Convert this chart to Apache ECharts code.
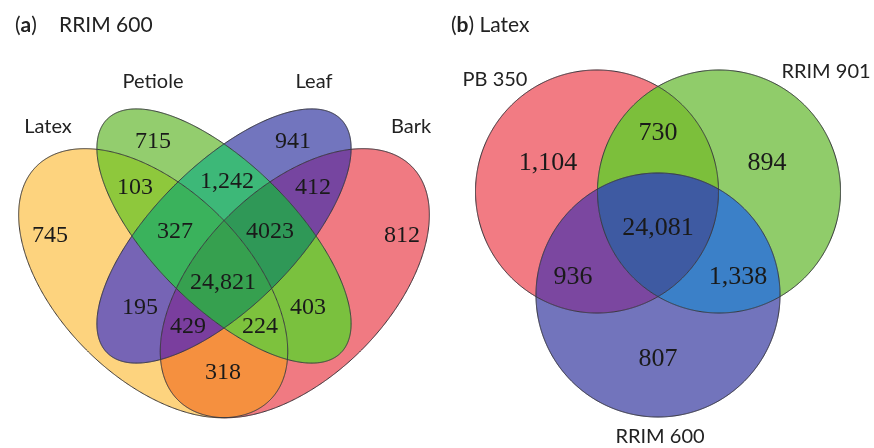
<!DOCTYPE html>
<html><head><meta charset="utf-8">
<script src="https://cdn.jsdelivr.net/npm/echarts@6/dist/echarts.min.js"></script>
<style>html,body{margin:0;padding:0;background:#fff}#c{width:874px;height:448px}</style>
</head><body><div id="c"></div>
<script>
// ---------- DATA ----------
// Panel (a): RRIM 600 tissues
const setsA = ['Latex', 'Petiole', 'Leaf', 'Bark'];
// region membership masks: Latex=1, Petiole=2, Leaf=4, Bark=8
const masksA = [1, 2, 4, 8, 3, 6, 12, 5, 10, 9, 7, 14, 13, 11, 15];
const countsA = [745, 715, 941, 812, 103, 1242, 412, 195, 403, 318, 327, 4023, 429, 224, 24821];
const countLabelsA = ['745', '715', '941', '812', '103', '1,242', '412', '195', '403', '318', '327', '4023', '429', '224', '24,821'];

// Panel (b): Latex clones
const setsB = ['PB 350', 'RRIM 901', 'RRIM 600'];
// masks: PB 350=1, RRIM 901=2, RRIM 600=4
const masksB = [1, 2, 4, 3, 5, 6, 7];
const countsB = [1104, 894, 807, 730, 936, 1338, 24081];
const countLabelsB = ['1,104', '894', '807', '730', '936', '1,338', '24,081'];

// ---------- LAYOUT (geometry & styles) ----------
const S = 472;
const shapesA = [
  { cx: 224 - 0.15 * S, cy: 236 + 0.10 * S, a: 0.35 * S, b: 0.20 * S, rot: 45 },
  { cx: 224, cy: 236, a: 0.35 * S, b: 0.15 * S, rot: 45 },
  { cx: 224, cy: 236, a: 0.35 * S, b: 0.15 * S, rot: -45 },
  { cx: 224 + 0.15 * S, cy: 236 + 0.10 * S, a: 0.35 * S, b: 0.20 * S, rot: -45 }
];
const shapesB = [
  { cx: 597, cy: 191.5, a: 121.5, b: 121.5, rot: 0 },
  { cx: 719, cy: 191.5, a: 121.5, b: 121.5, rot: 0 },
  { cx: 658, cy: 295, a: 122, b: 122, rot: 0 }
];
const colorsA = ['#FDD37E', '#93CD6E', '#7275BE', '#F07A82', '#8EC83C', '#3DB878', '#7645A0',
  '#7664B5', '#7AC13E', '#F5903F', '#3AB25C', '#2F9857', '#7A3E9E', '#7DC23D', '#36A04F'];
const colorsB = ['#F27B83', '#90CC6A', '#7274BC', '#7CBF3B', '#7B47A0', '#3B80C8', '#3E5AA2'];
const labelPosA = [[50, 236], [153, 142], [293, 142], [402, 236], [135, 188], [227, 182], [313, 188],
  [140, 308], [308, 308], [223, 373], [175, 232], [270, 232], [188, 327], [260, 327], [223, 283]];
const labelPosB = [[548, 163], [767, 163], [658, 359], [658, 133], [573, 277], [738, 277], [658, 228]];
const setLabelPosA = [[48, 127], [153, 82], [314, 82], [411, 127]];
const setLabelPosB = [[495, 80], [826, 72], [660, 437]];

// ---------- geometry helpers ----------
function inside(s, x, y) {
  const r = s.rot * Math.PI / 180, dx = x - s.cx, dy = y - s.cy;
  const u = dx * Math.cos(r) + dy * Math.sin(r), v = -dx * Math.sin(r) + dy * Math.cos(r);
  return (u * u) / (s.a * s.a) + (v * v) / (s.b * s.b) <= 1;
}
function boundary(s, N) {
  const r = s.rot * Math.PI / 180, pts = [];
  for (let k = 0; k < N; k++) {
    const t = 2 * Math.PI * k / N;
    const ca = s.a * Math.cos(t), sb = s.b * Math.sin(t);
    pts.push([s.cx + ca * Math.cos(r) - sb * Math.sin(r), s.cy + ca * Math.sin(r) + sb * Math.cos(r)]);
  }
  return pts;
}
function buildRegions(shapes, masks) {
  const N = 2000;
  const samples = shapes.map(s => boundary(s, N));
  return masks.map(m => {
    const runs = [];
    shapes.forEach((s, i) => {
      const pts = samples[i];
      const ok = pts.map(p => shapes.every((o, j) => j === i || (inside(o, p[0], p[1]) === !!((m >> j) & 1))));
      if (ok.every(x => x)) { runs.push(pts.slice()); return; }
      if (!ok.some(x => x)) return;
      const start = ok.findIndex(x => !x);
      let cur = null;
      for (let c = 1; c <= N; c++) {
        const k = (start + c) % N;
        if (ok[k]) { if (!cur) cur = []; cur.push(pts[k]); }
        else if (cur) { runs.push(cur); cur = null; }
      }
      if (cur) runs.push(cur);
    });
    const poly = runs.shift().slice();
    while (runs.length) {
      const e = poly[poly.length - 1];
      let best = 0, rev = false, bd = Infinity;
      runs.forEach((r, idx) => {
        const d1 = Math.hypot(e[0] - r[0][0], e[1] - r[0][1]);
        const d2 = Math.hypot(e[0] - r[r.length - 1][0], e[1] - r[r.length - 1][1]);
        if (d1 < bd) { bd = d1; best = idx; rev = false; }
        if (d2 < bd) { bd = d2; best = idx; rev = true; }
      });
      let r = runs.splice(best, 1)[0];
      if (rev) r = r.slice().reverse();
      for (const p of r) poly.push(p);
    }
    return poly;
  });
}

const regionsA = buildRegions(shapesA, masksA);
const regionsB = buildRegions(shapesB, masksB);
const polys = regionsA.concat(regionsB);
const polyColors = colorsA.concat(colorsB);
const outlines = shapesA.concat(shapesB).map(s => boundary(s, 720));

const numFontA = '24px "Liberation Serif", "DejaVu Serif", serif';
const numFontB = '26px "Liberation Serif", "DejaVu Serif", serif';
const setFont = '20px Lato, "Open Sans", sans-serif';

const countTexts = countLabelsA.concat(countLabelsB);
const countFonts = countLabelsA.map(() => numFontA).concat(countLabelsB.map(() => numFontB));
const countData = labelPosA.map((p, i) => [p[0], p[1], countsA[i]])
  .concat(labelPosB.map((p, i) => [p[0], p[1], countsB[i]]));
const setTexts = setsA.concat(setsB);
const setData = setLabelPosA.concat(setLabelPosB).map(p => [p[0], p[1]]);

function textItem(texts, fonts, color) {
  return function (params, api) {
    const p = api.coord([api.value(0), api.value(1)]);
    return {
      type: 'text', x: p[0], y: p[1],
      style: { text: texts[params.dataIndex], font: fonts[params.dataIndex], fill: color, align: 'center', verticalAlign: 'middle' }
    };
  };
}

const titleStyle = { fontFamily: 'Lato', fontSize: 21, fontWeight: 'normal', color: '#222' };
const titleBold = { fontFamily: 'Lato', fontSize: 21, fontWeight: 'bold', color: '#222' };

const chart = echarts.init(document.getElementById('c'), null, { renderer: 'canvas' });
chart.setOption({
  animation: false,
  backgroundColor: '#ffffff',
  title: [
    { text: '({b|a})', left: 10, top: 10, textStyle: Object.assign({ rich: { b: titleBold } }, titleStyle) },
    { text: 'RRIM 600', left: 54, top: 10, textStyle: titleStyle },
    { text: '({b|b}) Latex', left: 446, top: 10, textStyle: Object.assign({ rich: { b: titleBold } }, titleStyle) }
  ],
  grid: { left: 0, right: 0, top: 0, bottom: 0, containLabel: false, outerBoundsMode: 'none' },
  xAxis: { type: 'value', min: 0, max: 874, show: false },
  yAxis: { type: 'value', min: 0, max: 448, inverse: true, show: false },
  tooltip: { show: false },
  series: [
    {
      type: 'custom', name: 'regions', silent: true, z: 1,
      data: polys.map((p, i) => [i]),
      renderItem: function (params, api) {
        const idx = params.dataIndex;
        const pts = polys[idx].map(q => api.coord(q));
        return { type: 'polygon', shape: { points: pts }, style: { fill: polyColors[idx], stroke: polyColors[idx], lineWidth: 0.6 } };
      }
    },
    {
      type: 'custom', name: 'outlines', silent: true, z: 2,
      data: outlines.map((p, i) => [i]),
      renderItem: function (params, api) {
        const idx = params.dataIndex;
        const pts = outlines[idx].map(q => api.coord(q));
        return { type: 'polygon', shape: { points: pts }, style: { fill: 'none', stroke: '#3a3a40', lineWidth: 1 } };
      }
    },
    {
      type: 'custom', name: 'counts', silent: true, z: 3,
      data: countData, encode: { x: 0, y: 1 },
      renderItem: textItem(countTexts, countFonts, '#1a1a1a')
    },
    {
      type: 'custom', name: 'sets', silent: true, z: 3,
      data: setData, encode: { x: 0, y: 1 },
      renderItem: textItem(setTexts, setTexts.map(() => setFont), '#222')
    }
  ]
});
</script></body></html>
